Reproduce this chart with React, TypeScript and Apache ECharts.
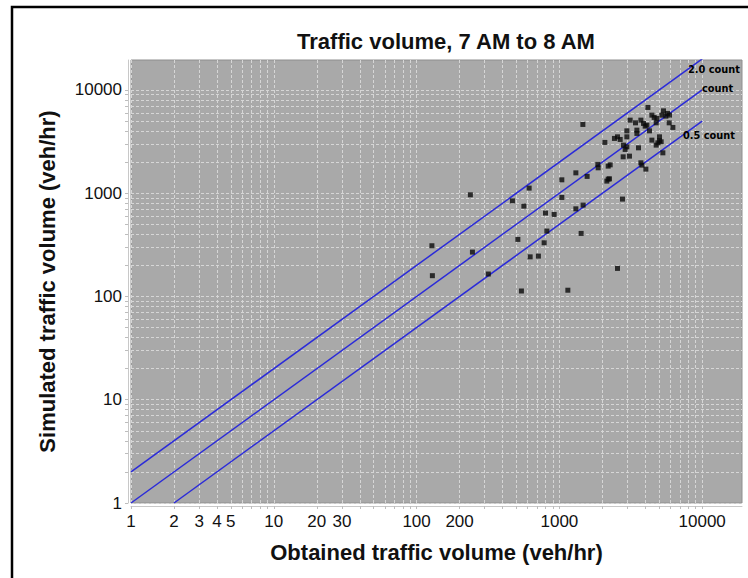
import React, { useEffect, useRef } from 'react';
import * as echarts from 'echarts';

// Obtained (x) and simulated (y) traffic volumes, veh/hr
const obtained = [
  128, 129, 238, 246, 318, 469, 614, 564, 512, 542,
  624, 713, 782, 817, 799, 919, 1040, 1040, 1146, 1304,
  1304, 1466, 1420, 1460, 1564, 1859, 1869, 2196, 2268, 2196,
  2149, 2242, 2081, 2551, 2765, 2430, 2551, 2665, 2810, 2888,
  2968, 2968, 2968, 3130, 3411, 3489, 3489, 3580, 2796, 3095,
  3721, 3880, 3988, 4099, 4166, 4274, 3721, 3781, 4033, 4442,
  4442, 4610, 4762, 4816, 5022, 5022, 4894, 5161, 4762, 5304,
  5220, 5356, 5567, 5714, 5902, 5873, 6233,
];
const simulated = [
  310, 159, 965, 269, 165, 844, 1120, 750, 357, 113,
  242, 246, 331, 430, 642, 623, 1348, 910, 115, 1575,
  706, 767, 408, 4634, 1455, 1901, 1762, 1829, 1883, 1369,
  1310, 1378, 3103, 187, 877, 3392, 3516, 3317, 2922, 2655,
  2813, 3516, 4018, 5100, 4803, 4081, 3792, 2751, 2251, 2286,
  5100, 4740, 4462, 4562, 6769, 4018, 1970, 1871, 1711, 3266,
  5702, 5417, 4803, 5298, 3516, 3216, 3075, 3145, 2922, 2461,
  5702, 6276, 5577, 5923, 5702, 4803, 4335,
];

const xTickLabels = [1, 2, 3, 4, 5, 10, 20, 30, 100, 200, 1000, 10000];
const yTickLabels = [1, 10, 100, 1000, 10000];
const ratios = [2, 1, 0.5];
const ratioNames = ['2.0 count', 'count', '0.5 count'];
const lineEndX = 10000;
const axisMin = 1;
const xMax = 19000;
const yMax = 19500;

function minorTicks(max: number): number[] {
  const out: number[] = [];
  for (let d = 1; d <= max; d *= 10) {
    for (let m = 1; m <= 9; m++) {
      const v = m * d;
      if (v <= max) out.push(v);
    }
  }
  return out;
}

export default function App() {
  const ref = useRef<HTMLDivElement>(null);
  useEffect(() => {
    document.body.style.margin = '0';
    if (!ref.current) return;
    const chart = echarts.init(ref.current, undefined, { renderer: 'svg' });
    const points = obtained.map((x, i) => [x, simulated[i]]);
    const lineSeries = ratios.map((r, i) => ({
      type: 'line',
      name: ratioNames[i],
      data: [
        [Math.max(axisMin, axisMin / r), Math.max(axisMin, axisMin / r) * r],
        [lineEndX, lineEndX * r],
      ],
      symbol: 'none',
      clip: true,
      lineStyle: { color: '#2b2bd9', width: 1.5 },
      z: 3,
    }));
    const splitStyle = { color: '#d6d6d6', type: [3, 2] as any, width: 1 };
    const labelFont = { fontFamily: 'Liberation Sans', fontSize: 17, color: '#111' };
    const nameFont = { fontFamily: 'Liberation Sans', fontWeight: 'bold', fontSize: 22, color: '#111' };
    const countStyle = { fontFamily: 'DejaVu Sans', fontWeight: 'bold', fontSize: 9.8, fill: '#000', verticalAlign: 'middle' };
    chart.setOption({
      animation: false,
      backgroundColor: '#ffffff',
      title: {
        text: 'Traffic volume, 7 AM to 8 AM',
        left: 441,
        top: 25,
        textAlign: 'center',
        textStyle: { fontFamily: 'Liberation Sans', fontWeight: 'bold', fontSize: 22, color: '#111' },
      },
      grid: {
        left: 131,
        top: 60,
        right: 6,
        bottom: 75,
        show: true,
        backgroundColor: '#a9a9a9',
        borderColor: '#8e8e8e',
        borderWidth: 1,
      },
      xAxis: {
        type: 'log',
        min: axisMin,
        max: xMax,
        offset: 3,
        name: 'Obtained traffic volume (veh/hr)',
        nameLocation: 'middle',
        nameGap: 35,
        nameTextStyle: nameFont,
        axisLine: { show: true, lineStyle: { color: '#c8c8c8', width: 1 } },
        axisTick: { show: true, length: 3, customValues: minorTicks(xMax), lineStyle: { color: '#bdbdbd' } },
        axisLabel: {
          ...labelFont,
          margin: 7,
          customValues: xTickLabels,
          formatter: (v: number) => String(Math.round(v)),
        },
        splitLine: { show: true, lineStyle: splitStyle },
      },
      yAxis: {
        type: 'log',
        min: axisMin,
        max: yMax,
        offset: 3,
        name: 'Simulated traffic volume (veh/hr)',
        nameLocation: 'middle',
        nameGap: 70,
        nameRotate: 90,
        nameTextStyle: nameFont,
        axisLine: { show: true, lineStyle: { color: '#c8c8c8', width: 1 } },
        axisTick: { show: true, length: 3, customValues: minorTicks(yMax), lineStyle: { color: '#bdbdbd' } },
        axisLabel: {
          ...labelFont,
          margin: 6,
          customValues: yTickLabels,
          formatter: (v: number) => String(Math.round(v)),
        },
        splitLine: { show: true, lineStyle: splitStyle },
      },
      series: [
        ...lineSeries,
        {
          type: 'scatter',
          data: points,
          symbol: 'rect',
          symbolSize: 5,
          itemStyle: { color: '#0a0a0a' },
          z: 4,
        },
      ],
      graphic: [
        {
          type: 'rect',
          shape: { x: 12, y: 7, width: 780, height: 620 },
          style: { fill: 'none', stroke: '#000', lineWidth: 2.5 },
          silent: true,
        },
        { type: 'text', x: 688, y: 69, z: 10, style: { text: ratioNames[0], ...countStyle } },
        { type: 'text', x: 702, y: 88, z: 10, style: { text: ratioNames[1], ...countStyle } },
        { type: 'text', x: 683, y: 135, z: 10, style: { text: ratioNames[2], ...countStyle } },
      ],
    });
    return () => chart.dispose();
  }, []);
  return <div ref={ref} style={{ width: 748, height: 578 }} />;
}
